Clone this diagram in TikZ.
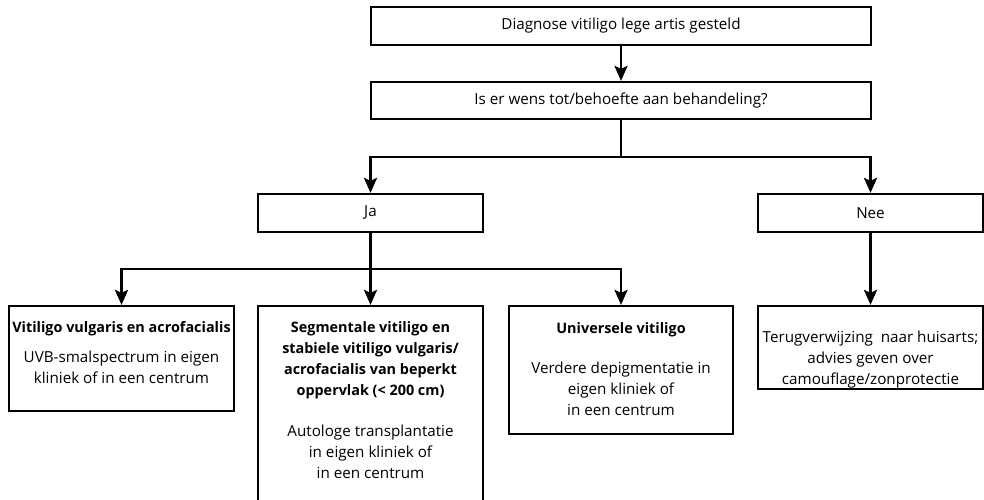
\documentclass[tikz,border=0pt]{standalone}
\usepackage{fontspec}
\setmainfont{Open Sans}
\usetikzlibrary{arrows.meta}
\newcommand{\hd}[1]{{\fontsize{14.4}{20.7}\selectfont\bfseries #1}}
\tikzset{
  box/.style={draw, line width=1.2pt, inner sep=0pt, align=center},
  lbl/.style={font=\fontsize{15.2}{17}\selectfont},
  txt/.style={inner sep=0pt, align=center, anchor=north, font=\fontsize{15.2}{21}\selectfont},
  conn/.style={line width=2.8pt},
  arr/.style={line width=2.8pt, -{Stealth[length=15pt,width=13pt,inset=3pt]}, shorten >=0.5pt}
}
\begin{document}
\begin{tikzpicture}[x=1pt,y=-1pt]
\useasboundingbox (0,0) rectangle (984,500);
\node[box, lbl, minimum width=500pt, minimum height=38pt] (d) at (621,26) {Diagnose vitiligo lege artis gesteld};
\node[box, lbl, minimum width=500pt, minimum height=37pt] (q) at (621,100.5) {Is er wens tot/behoefte aan behandeling?};
\node[box, lbl, minimum width=225pt, minimum height=38pt] (ja) at (370.5,213) {Ja};
\node[box, lbl, minimum width=225pt, minimum height=38pt] (nee) at (870.5,213) {Nee};
\node[box, minimum width=225pt, minimum height=105pt] (l) at (121.5,358.5) {};
\node[box, minimum width=225pt, minimum height=200pt] (m) at (370.5,406) {};
\node[box, minimum width=224pt, minimum height=128pt] (u) at (621,370) {};
\node[box, minimum width=225pt, minimum height=83pt] (t) at (870.5,347.5) {};
\node[txt] (lt) at (121.5,321.5) {\hd{Vitiligo vulgaris en acrofacialis}\\[9pt]UVB-smalspectrum in eigen\\kliniek of in een centrum};
\node[txt] (mt) at (370.5,321.5) {\hd{Segmentale vitiligo en}\\\hd{stabiele vitiligo vulgaris/}\\\hd{acrofacialis van beperkt}\\\hd{oppervlak (< 200 cm)}\\[20pt]Autologe transplantatie\\in eigen kliniek of\\in een centrum};
\node[txt] (ut) at (621,322) {\hd{Universele vitiligo}\\[19pt]Verdere depigmentatie in\\eigen kliniek of\\in een centrum};
\node[txt] (tt) at (870.5,331) {Terugverwijzing\ \ naar huisarts;\\advies geven over\\camouflage/zonprotectie};
\coordinate (j1) at (621,157);
\coordinate (j2) at (370.5,269);
\draw[arr] (d.south) -- (q.north);
\draw[conn] (q.south) -- (j1);
\draw[arr] (j1) -| (ja.north);
\draw[arr] (j1) -| (nee.north);
\draw[conn] (ja.south) -- (j2);
\draw[arr] (j2) -| (l.north);
\draw[arr] (j2) -- (m.north);
\draw[arr] (j2) -| (u.north);
\draw[arr] (nee.south) -- (t.north);
\end{tikzpicture}
\end{document}
